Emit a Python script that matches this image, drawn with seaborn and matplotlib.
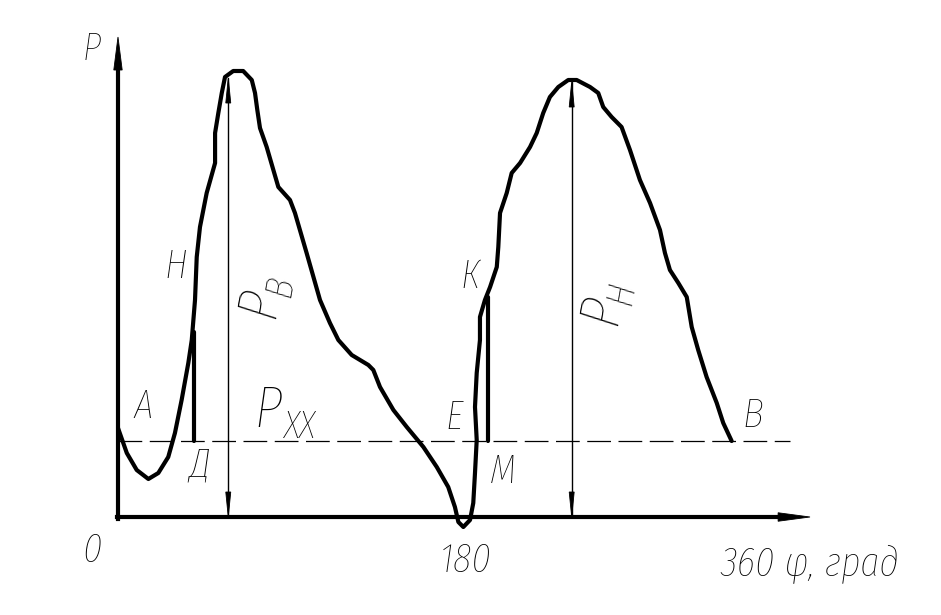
import numpy as np
import pandas as pd
import matplotlib
matplotlib.use('Agg')
import matplotlib.pyplot as plt
import seaborn as sns
import warnings
warnings.filterwarnings('ignore')

# crank angle, degrees
phi = [0.0, 4.6, 9.8, 15.9, 21.1, 26.3, 29.8, 33.3, 36.8, 38.6, 40.3, 41.2,
       42.9, 46.4, 50.8, 50.8, 52.5, 54.3, 56.0, 60.3, 65.5, 70.0, 71.7, 72.9,
       74.3, 77.8, 81.3, 83.9, 90.0, 92.6, 98.7, 105.7, 110.9, 115.3, 122.3,
       131.0, 133.6, 137.1, 144.1, 151.1, 159.8, 166.8, 172.8, 176.3, 178.1,
       180.7, 184.2, 185.9, 186.8, 187.7, 186.8, 187.7, 189.4, 189.4, 192.0,
       194.7, 198.2, 199.0, 199.9, 203.4, 206.0, 210.4, 215.6, 219.1, 222.5,
       226.0, 230.4, 235.6, 240.0, 247.0, 251.3, 253.9, 258.3, 263.5, 267.9,
       273.1, 278.4, 283.6, 286.2, 288.8, 293.2, 297.6, 300.2, 303.6, 308.0,
       313.3, 316.7, 321.1]
# load P, arbitrary units
load = [8.9, 6.4, 4.7, 3.8, 4.4, 6.0, 8.4, 11.7, 15.4, 17.7, 21.7, 26.0,
        29.0, 32.4, 35.4, 38.4, 40.4, 42.4, 44.0, 44.6, 44.6, 43.7, 42.4, 40.7,
        38.9, 37.0, 34.7, 33.0, 31.7, 30.4, 26.4, 21.7, 19.4, 17.7, 16.2,
        15.2, 14.7, 13.0, 10.7, 9.0, 7.0, 5.0, 3.0, 1.0, -0.5,
        -1.0, -0.3, 1.4, 4.4, 7.7, 11.0, 14.4, 17.7, 20.0, 21.7,
        23.0, 25.0, 27.0, 30.4, 32.4, 34.4, 35.4, 37.0, 38.4, 40.4,
        42.0, 43.0, 43.7, 43.7, 43.0, 42.4, 41.0, 40.0, 39.0, 36.7,
        33.7, 31.4, 28.7, 26.4, 24.7, 23.4, 22.0, 19.0, 16.7, 14.0,
        11.4, 9.4, 7.6]

p_idle = 7.6           # P_XX level (dashed line)
idle_end = 351.6       # where the dashed line stops
phi_d, top_h = 39.9, 18.5    # vertical Д-Н
phi_m, top_k = 193.8, 22.0   # vertical М-К
phi_pb, pb = 57.7, 43.9      # P_B arrow
phi_ph, ph = 237.4, 43.5     # P_H arrow
x_end, y_end = 362.1, 48.0   # axis arrow tips

df = pd.DataFrame({'phi': phi, 'P': load})

sns.set_style('white')
plt.rcParams['font.family'] = ['Fira Sans Extra Condensed', 'Fira Sans Condensed',
                               'Liberation Sans Narrow', 'DejaVu Sans']
plt.rcParams['font.style'] = 'italic'
plt.rcParams['font.weight'] = 'light'
plt.rcParams['text.color'] = 'black'

fig = plt.figure(figsize=(9.41, 6.15), dpi=100)
ax = fig.add_axes([0, 0, 1, 1])
ax.set_xlim(-61.74, 430.64)
ax.set_ylim(-9.8, 51.7)
ax.axis('off')


def head(x_tip, y_tip, dx, dy, hw):
    # filled arrow head only, tip at (x_tip, y_tip), pointing along (dx, dy)
    ax.arrow(x_tip - dx, y_tip - dy, dx, dy, width=0.0, head_width=hw,
             head_length=abs(dx) + abs(dy), length_includes_head=True,
             color='black', lw=0.6)


# main curve
sns.lineplot(data=df, x='phi', y='P', sort=False, estimator=None, ax=ax,
             color='black', lw=3.0, solid_joinstyle='round', solid_capstyle='round')

# idle level
ax.plot([0, idle_end], [p_idle, p_idle], color='black', lw=0.9, ls=(0, (19, 6)))

# thick verticals
ax.plot([phi_d, phi_d], [p_idle, top_h], color='black', lw=3.0)
ax.plot([phi_m, phi_m], [p_idle, top_k], color='black', lw=3.0)

# coordinate axes
ax.plot([0, 0], [-0.15, y_end - 3.0], color='black', lw=3.0, solid_capstyle='projecting')
ax.plot([-0.3, x_end - 15.0], [0, 0], color='black', lw=3.0, solid_capstyle='projecting')
head(0, y_end, 0, 3.3, 4.4)
head(x_end, 0, 16.7, 0, 0.85)

# dimension arrows
for xx, top in [(phi_pb, pb), (phi_ph, ph)]:
    ax.plot([xx, xx], [0, top], color='black', lw=1.0)
    head(xx, top, 0, 2.5, 2.6)
    head(xx, 0, 0, -2.5, 2.6)

# labels
fs = 30
ax.text(-14.1, 45.7, 'Р', fontsize=28, ha='center', va='baseline')
ax.text(-13.6, -4.5, '0', fontsize=fs, ha='center', va='baseline')
ax.text(182.1, -5.5, '180', fontsize=fs, ha='center', va='baseline')
ax.text(315.0, -5.8, '360 φ, град', fontsize=fs, ha='left', va='baseline')
ax.text(13.1, 9.9, 'А', fontsize=fs, ha='center', va='baseline')
ax.text(42.9, 4.1, 'Д', fontsize=fs, ha='center', va='baseline')
ax.text(30.3, 23.9, 'Н', fontsize=fs, ha='center', va='baseline')
ax.text(175.8, 8.8, 'Е', fontsize=fs, ha='center', va='baseline')
ax.text(184.2, 22.9, 'К', fontsize=fs, ha='center', va='baseline')
ax.text(201.5, 3.4, 'М', fontsize=fs, ha='center', va='baseline')
ax.text(332.3, 9.0, 'В', fontsize=fs, ha='center', va='baseline')

ax.text(78.5, 9.0, 'Р', fontsize=42, ha='center', va='baseline')
ax.text(95.2, 7.9, 'ХХ', fontsize=29, ha='center', va='baseline')

ax.text(74.3, 21.4, 'Р', fontsize=42, ha='center', va='center', rotation=80,
        rotation_mode='anchor')
ax.text(84.8, 23.1, 'В', fontsize=29, ha='center', va='center', rotation=80,
        rotation_mode='anchor')
ax.text(253.3, 20.7, 'Р', fontsize=42, ha='center', va='center', rotation=80,
        rotation_mode='anchor')
ax.text(263.2, 22.4, 'Н', fontsize=29, ha='center', va='center', rotation=80,
        rotation_mode='anchor')

fig.savefig('out.png', dpi=100, facecolor='white')
